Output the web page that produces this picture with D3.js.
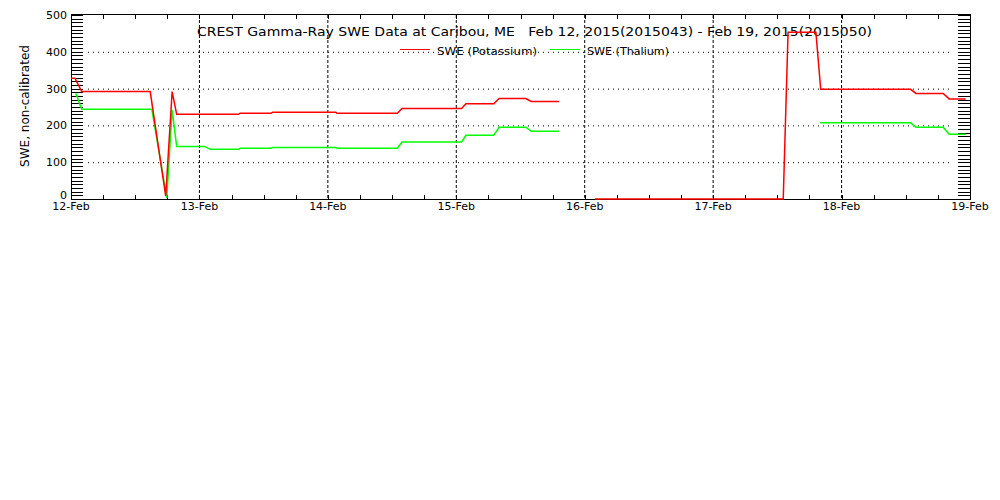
<!DOCTYPE html>
<html>
<head>
<meta charset="utf-8">
<script src="https://cdn.jsdelivr.net/npm/d3@7"></script>
<style>
  body { margin: 0; background: #fff; }
  text { font-family: "DejaVu Sans", sans-serif; fill: #000; white-space: pre; }
</style>
</head>
<body>
<div id="chart"></div>
<script>
// hours after 12-Feb-2015 00:00
var potHours = [0, 0.75, 2.0, 14.8, 17.7, 18.9, 19.75, 31.3, 31.6, 37.4, 37.7, 49.5, 49.7, 61.0, 61.85, 73.0, 73.8, 79.0, 80.0, 85.0, 86.0, 91.2,
                91.5,
                97.9, 133.1, 134.0, 139.2, 140.1, 156.9, 157.9, 163.0, 164.1, 167.2];
var potSwe = [328, 328, 292, 292, 8, 292, 230, 230, 233, 233, 236, 236, 233, 233, 246, 246, 259, 259, 273, 273, 265, 265,
              null,
              0, 0, 453, 453, 298, 298, 287, 287, 272, 272];

var thalHours = [0.9, 2.0, 15.1, 17.9, 18.9, 19.75, 25.0, 26.0, 31.3, 31.6, 37.4, 37.7, 49.5, 49.7, 61.0, 61.85, 73.0, 73.8, 79.0, 80.0, 85.0, 86.0, 91.2,
                 91.5,
                 140.0, 156.9, 157.9, 163.0, 164.1, 167.2];
var thalSwe = [287, 244, 244, 3, 242, 143, 143, 135, 135, 138, 138, 140, 140, 138, 138, 155, 155, 173, 173, 195, 195, 184, 184,
               null,
               207, 207, 195, 195, 176, 176];

var dayLabels = ["12-Feb", "13-Feb", "14-Feb", "15-Feb", "16-Feb", "17-Feb", "18-Feb", "19-Feb"];
var yTicks = [0, 100, 200, 300, 400, 500];

var seriesNames = ["SWE (Potassium)", "SWE (Thalium)"];
var seriesColors = ["#ff0000", "#00ff00"];

var titleText = "CREST Gamma-Ray SWE Data at Caribou, ME   Feb 12, 2015(2015043) - Feb 19, 2015(2015050)";

var margin = { top: 15, left: 71, right: 30, bottom: 301 },
  width = 1000 - margin.left - margin.right,
  height = 500 - margin.top - margin.bottom;

var svg = d3.select("#chart").append("svg")
  .attr("width", 1000)
  .attr("height", 500)
  .append("g")
  .attr("transform", "translate(" + margin.left + "," + margin.top + ")");

var t0 = Date.UTC(2015, 1, 12);
function toDate(h) { return new Date(t0 + h * 3600000); }

var x = d3.scaleUtc()
  .domain([new Date(t0), toDate(7 * 24)])
  .range([0, width]);
var y = d3.scaleLinear().domain([0, 500]).range([height, 0]);

var days = d3.range(dayLabels.length).map(function(i) { return toDate(i * 24); });
var sixHours = d3.range(0, 7 * 24 + 1, 6).map(toDate);

// grid
svg.selectAll(".vgrid")
  .data(days.slice(1, -1))
  .enter().append("line")
  .attr("x1", function(d) { return x(d); })
  .attr("x2", function(d) { return x(d); })
  .attr("y1", 0).attr("y2", height)
  .attr("stroke", "#000")
  .attr("stroke-dasharray", "3,2");

svg.selectAll(".hgrid")
  .data(yTicks.slice(1, -1))
  .enter().append("line")
  .attr("x1", 17).attr("x2", width - 17)
  .attr("y1", function(d) { return y(d) + 0.5; })
  .attr("y2", function(d) { return y(d) + 0.5; })
  .attr("stroke", "#000")
  .attr("stroke-dasharray", "1,4");

// minor ticks on y (both sides)
var yMinor = d3.range(0, 501, 10);
svg.selectAll(".ytl")
  .data(yMinor)
  .enter().append("line")
  .attr("x1", 0).attr("x2", 12)
  .attr("y1", function(d) { return Math.round(y(d)) + 0.5; })
  .attr("y2", function(d) { return Math.round(y(d)) + 0.5; })
  .attr("stroke", "#000");
svg.selectAll(".ytr")
  .data(yMinor)
  .enter().append("line")
  .attr("x1", width - 12).attr("x2", width)
  .attr("y1", function(d) { return Math.round(y(d)) + 0.5; })
  .attr("y2", function(d) { return Math.round(y(d)) + 0.5; })
  .attr("stroke", "#000");

// 6-hour ticks top and bottom
svg.selectAll(".xtb")
  .data(sixHours)
  .enter().append("line")
  .attr("x1", function(d) { return Math.round(x(d)) + 0.5; })
  .attr("x2", function(d) { return Math.round(x(d)) + 0.5; })
  .attr("y1", height).attr("y2", height - 4)
  .attr("stroke", "#000");
svg.selectAll(".xtt")
  .data(sixHours)
  .enter().append("line")
  .attr("x1", function(d) { return Math.round(x(d)) + 0.5; })
  .attr("x2", function(d) { return Math.round(x(d)) + 0.5; })
  .attr("y1", 0).attr("y2", 4)
  .attr("stroke", "#000");

// frame
svg.append("rect")
  .attr("x", 0.5).attr("y", -0.5)
  .attr("width", width).attr("height", height + 1)
  .attr("fill", "none")
  .attr("stroke", "#000");

// tick labels
svg.selectAll(".xlab")
  .data(days)
  .enter().append("text")
  .attr("x", function(d) { return x(d); })
  .attr("y", height + 11)
  .attr("text-anchor", "middle")
  .attr("font-size", 11)
  .text(function(d, i) { return dayLabels[i]; });

svg.selectAll(".ylab")
  .data(yTicks)
  .enter().append("text")
  .attr("x", -4)
  .attr("y", function(d) { return d === 0 ? y(d) : y(d) + 4; })
  .attr("text-anchor", "end")
  .attr("font-size", 11)
  .text(function(d) { return d; });

svg.append("text")
  .attr("transform", "translate(-42," + (height / 2 - 1) + ") rotate(-90)")
  .attr("text-anchor", "middle")
  .attr("font-size", 12)
  .text("SWE, non-calibrated");

// title
svg.append("text")
  .attr("x", 126)
  .attr("y", 21)
  .attr("font-size", 13)
  .attr("textLength", 675)
  .attr("lengthAdjust", "spacingAndGlyphs")
  .text(titleText);

// data lines
var line = d3.line()
  .defined(function(d) { return d.v !== null; })
  .x(function(d) { return x(toDate(d.h)); })
  .y(function(d) { return y(d.v); });

var series = [
  potHours.map(function(h, i) { return { h: h, v: potSwe[i] }; }),
  thalHours.map(function(h, i) { return { h: h, v: thalSwe[i] }; })
];

// thalium drawn first so potassium sits on top where they overlap
[1, 0].forEach(function(k) {
  svg.append("path")
    .datum(series[k])
    .attr("d", line)
    .attr("fill", "none")
    .attr("stroke", seriesColors[k])
    .attr("stroke-width", 1.5);
});

// legend
var legendX = [329, 479];
var legendW = [100, 82];
seriesNames.forEach(function(name, i) {
  svg.append("line")
    .attr("x1", legendX[i]).attr("x2", legendX[i] + 30)
    .attr("y1", 34.5).attr("y2", 34.5)
    .attr("stroke", seriesColors[i]);
  svg.append("text")
    .attr("x", legendX[i] + 37)
    .attr("y", 40)
    .attr("font-size", 11)
    .attr("textLength", legendW[i])
    .attr("lengthAdjust", "spacingAndGlyphs")
    .text(name);
});
</script>
</body>
</html>
